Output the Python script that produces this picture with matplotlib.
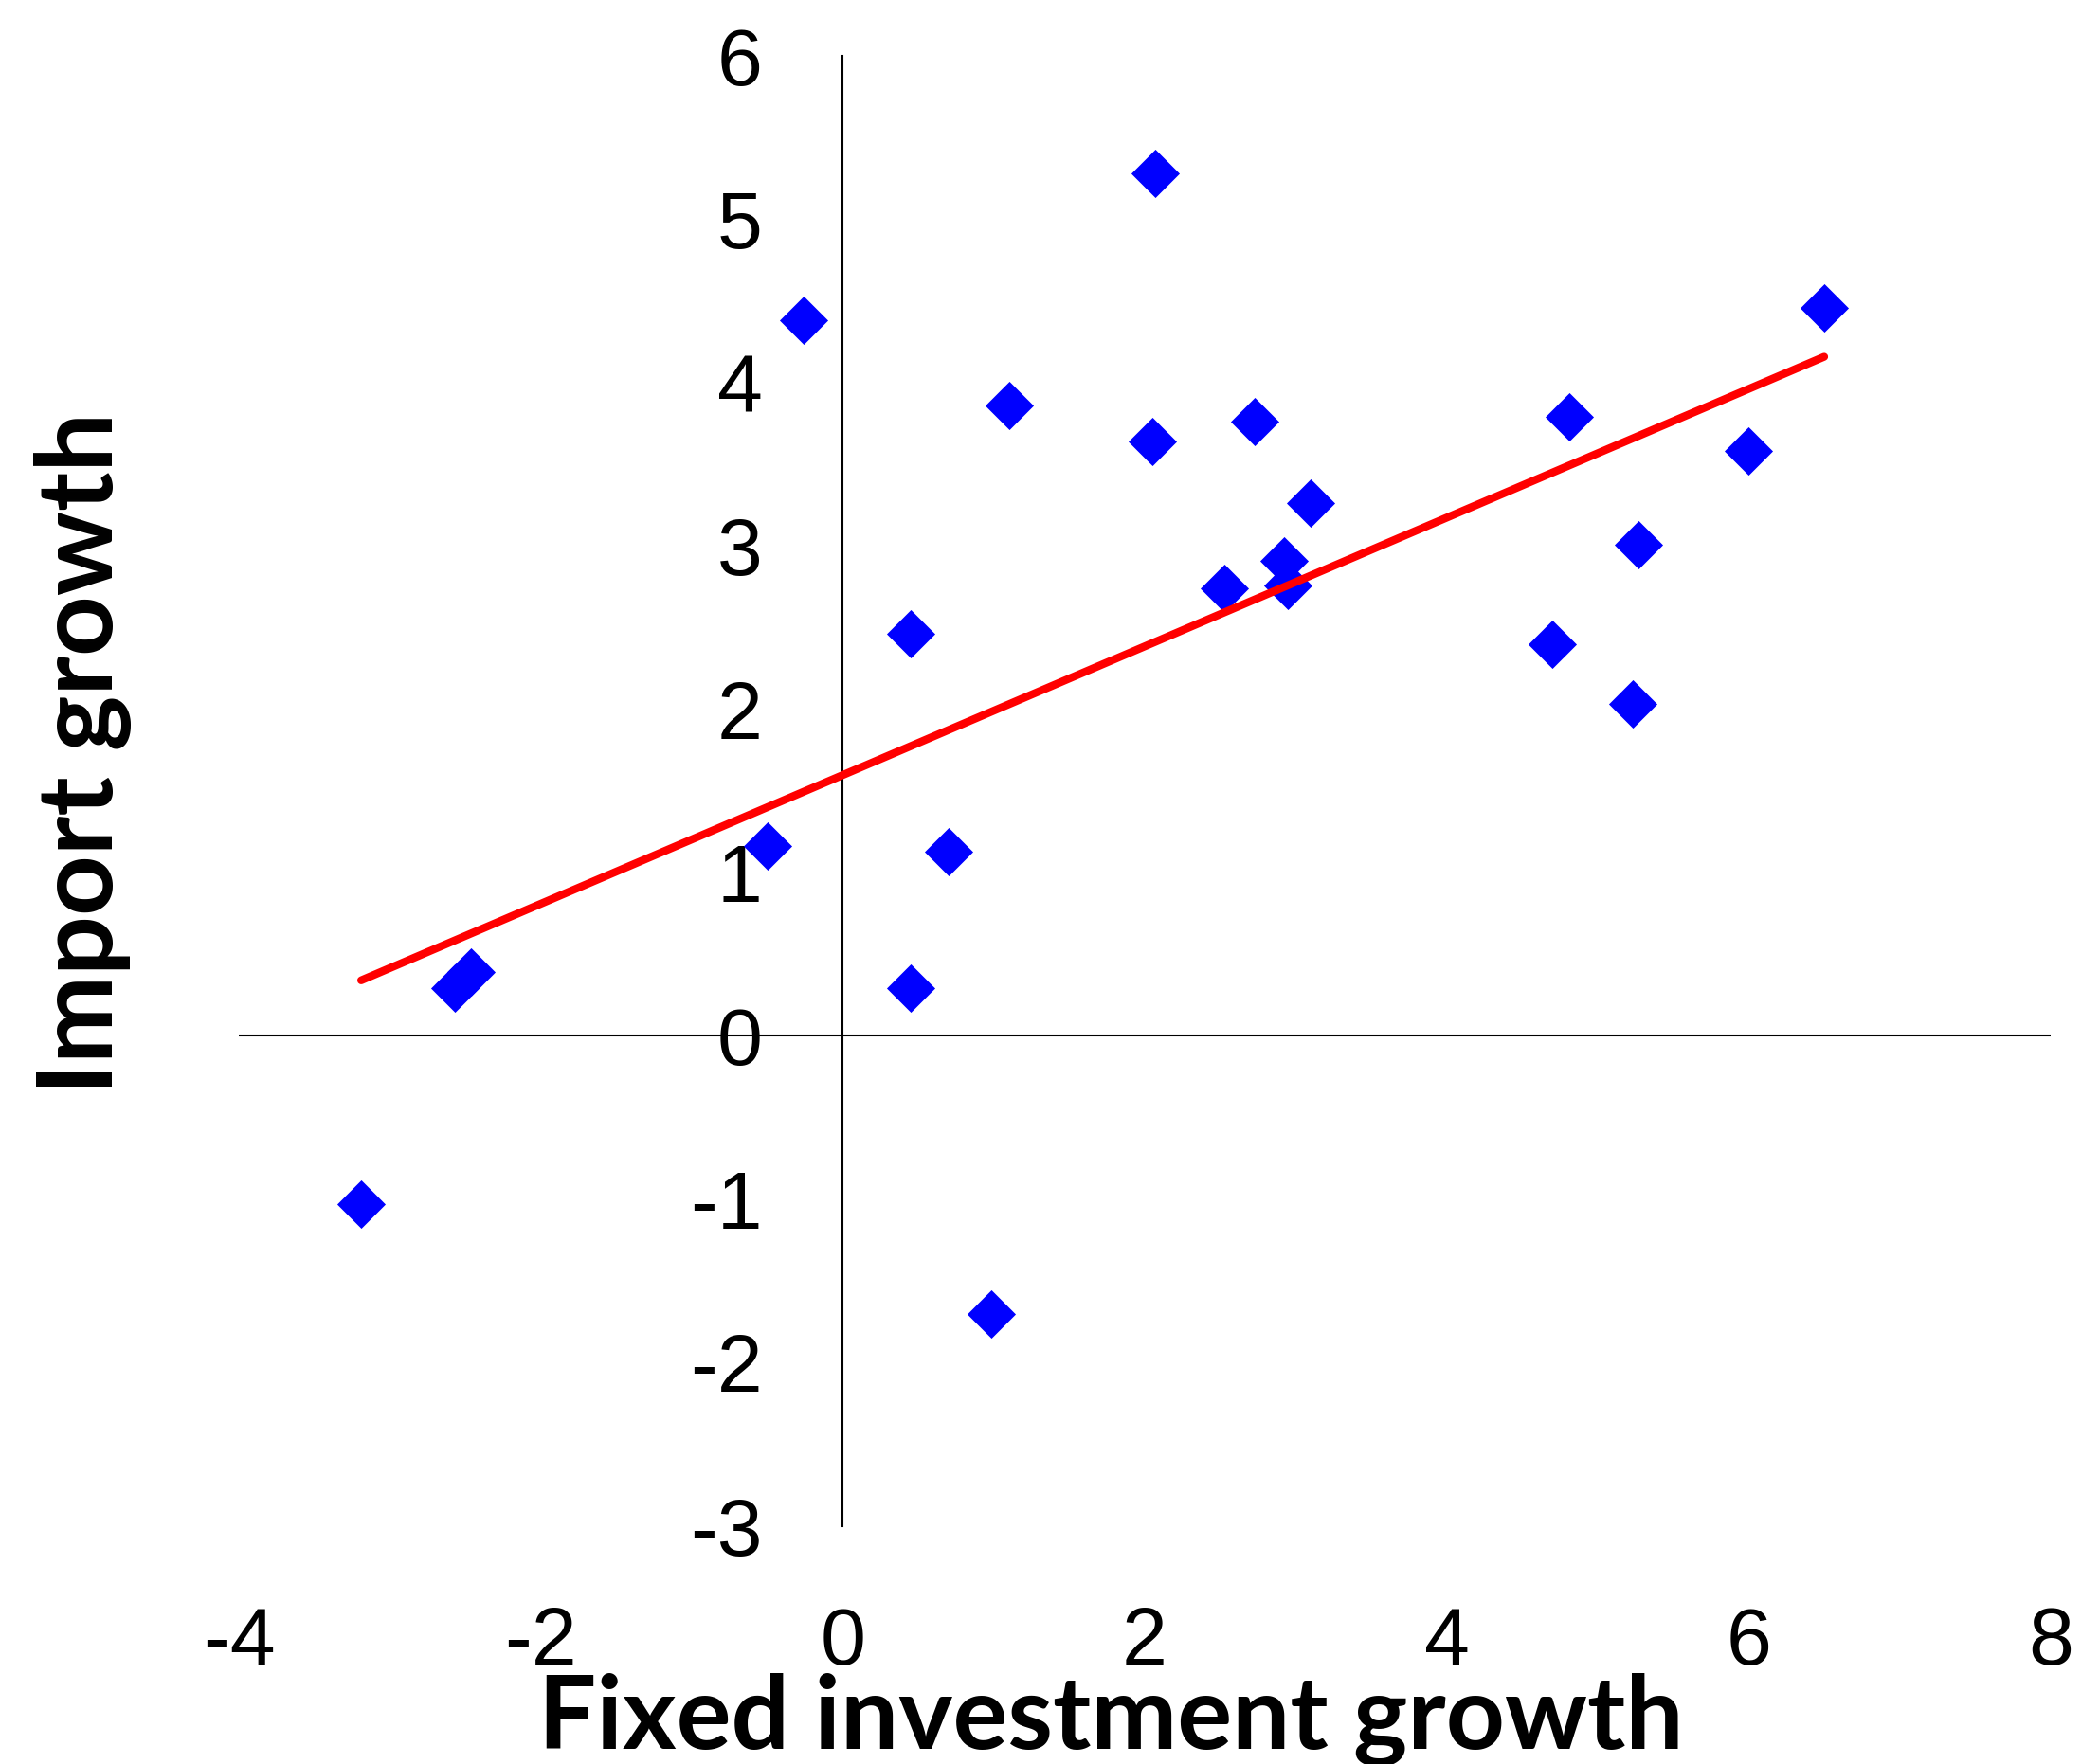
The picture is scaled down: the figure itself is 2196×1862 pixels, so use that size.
import numpy as np
import matplotlib
matplotlib.use('Agg')
import matplotlib.pyplot as plt

plt.rcParams['axes.unicode_minus'] = False

# fixed investment growth vs import growth (%)
invest_growth = [-3.19, -2.57, -2.46, -0.50, -0.26, 0.45, 0.45, 0.70, 0.98, 1.10,
                 2.07, 2.05, 2.53, 2.73, 2.92, 2.95, 3.10, 4.70, 4.81, 5.23,
                 5.27, 6.00, 6.50]
import_growth = [-1.03, 0.29, 0.39, 1.16, 4.38, 2.46, 0.29, 1.13, -1.70, 3.86,
                 5.28, 3.64, 2.74, 3.76, 2.91, 2.76, 3.26, 2.40, 3.79, 2.03,
                 3.01, 3.58, 4.46]

# linear trend
trend_slope = 0.394
trend_intercept = 1.597

x_ticks = [-4, -2, 0, 2, 4, 6, 8]
y_ticks = [-3, -2, -1, 0, 1, 2, 3, 4, 5, 6]

fig = plt.figure(figsize=(21.96, 18.62), dpi=100)
ax = fig.add_axes([0.1148, 0.135, 0.8706, 0.8333])

ax.scatter(invest_growth, import_growth, marker='D', s=26 ** 2,
           color='#0000FF', linewidths=0, zorder=3)

xs = np.array([min(invest_growth), max(invest_growth)])
ax.plot(xs, trend_intercept + trend_slope * xs, color='#FF0000', lw=6,
        solid_capstyle='round', zorder=4)

ax.set_xlim(-4, 8)
ax.set_ylim(-3, 6)
ax.set_xticks(x_ticks)
ax.set_yticks(y_ticks)

for s in ['top', 'right', 'bottom']:
    ax.spines[s].set_visible(False)
ax.spines['left'].set_position(('data', 0))
ax.spines['left'].set_linewidth(1.5)
ax.axhline(0, color='black', lw=1.5, zorder=2)

ax.tick_params(axis='both', length=0, labelsize=62)
ax.tick_params(axis='y', pad=61)
ax.tick_params(axis='x', pad=61)
for lab in ax.get_xticklabels() + ax.get_yticklabels():
    lab.set_fontfamily('Liberation Sans')

fig.text(0.534, 0.0086, 'Fixed investment growth', ha='center', va='baseline',
         fontsize=78, fontweight='bold', family='Lato')
fig.text(0.040, 0.573, 'Import growth', ha='center', va='center', rotation=90,
         fontsize=80, fontweight='bold', family='Lato')

fig.savefig('out.png', dpi=100)
